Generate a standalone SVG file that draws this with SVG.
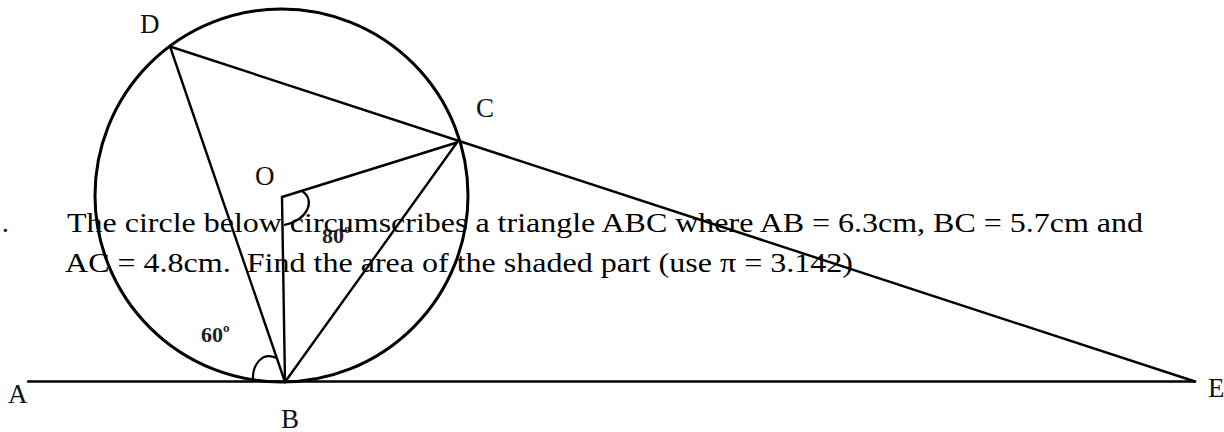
<svg xmlns="http://www.w3.org/2000/svg" width="1224" height="432" viewBox="0 0 1224 432">
  <style>
    .ln { stroke: #000; stroke-width: 2.4; fill: none; stroke-linecap: round; }
    .circ { stroke: #000; stroke-width: 3; fill: none; }
    .arc { stroke: #000; stroke-width: 2.2; fill: none; }
    .lbl { font-family: "Liberation Serif", "Times New Roman", serif; font-size: 27px; fill: #111; }
    .ang { font-family: "Liberation Serif", "Times New Roman", serif; font-size: 22px; font-weight: bold; fill: #222; }
    .q { font-family: "Liberation Serif", "Times New Roman", serif; font-size: 27px; fill: #000; white-space: pre; }
  </style>
  <rect width="1224" height="432" fill="#fff"/>

  <g id="circle">
    <circle class="circ" cx="281.5" cy="195.5" r="186.5"/>
  </g>

  <g id="connectors">
    <line class="ln" x1="28" y1="381.5" x2="1195" y2="381.5" stroke-width="2"/>
    <line class="ln" x1="170" y1="46.5" x2="1195" y2="381.5"/>
    <line class="ln" x1="170" y1="46.5" x2="285" y2="382"/>
    <line class="ln" x1="282" y1="197" x2="285" y2="382"/>
    <line class="ln" x1="282" y1="197" x2="457" y2="142.5"/>
    <line class="ln" x1="457" y1="142.5" x2="285" y2="382"/>
    <path class="arc" d="M302,191 C316,200 308,220 284,225"/>
    <path class="arc" d="M253,381 C252,365 262,351 276.5,358"/>
  </g>

  <g id="point-D"><text class="lbl" x="140" y="33">D</text></g>
  <g id="point-C"><text class="lbl" x="476" y="117">C</text></g>
  <g id="point-O"><text class="lbl" x="255" y="185">O</text></g>
  <g id="point-B"><text class="lbl" x="281" y="428">B</text></g>
  <g id="point-A"><text class="lbl" x="8" y="403">A</text></g>
  <g id="point-E"><text class="lbl" x="1208" y="397">E</text></g>

  <g id="angle-60"><text class="ang" x="201" y="342">60<tspan font-size="13" dy="-10">o</tspan></text></g>
  <g id="angle-80"><text class="ang" x="322" y="243">80<tspan font-size="13" dy="-10">o</tspan></text></g>

  <g id="question">
    <text class="q" x="2" y="232">.</text>
    <text class="q" x="67" y="232" textLength="1076" lengthAdjust="spacingAndGlyphs">The circle below circumscribes a triangle ABC where AB = 6.3cm, BC = 5.7cm and</text>
    <text class="q" x="65" y="272" textLength="788" lengthAdjust="spacingAndGlyphs" xml:space="preserve">AC = 4.8cm.  Find the area of the shaded part (use π = 3.142)</text>
  </g>
</svg>
